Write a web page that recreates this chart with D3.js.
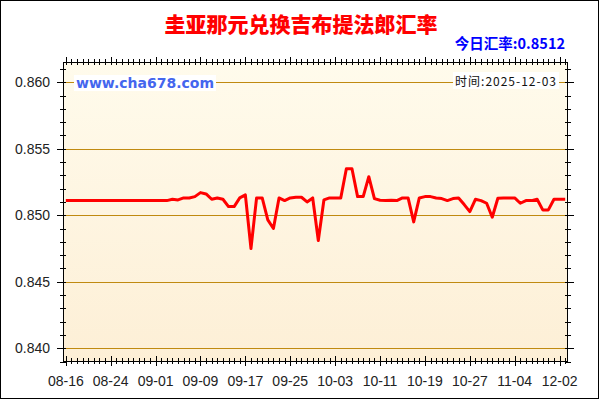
<!DOCTYPE html>
<html><head><meta charset="utf-8">
<script src="https://cdn.jsdelivr.net/npm/d3@7"></script>
<style>body{margin:0;background:#fff}svg{display:block}</style>
</head><body><svg id="c" width="600" height="400"></svg>
<script>
const title = "圭亚那元兑换吉布提法郎汇率";
const todayLabel = "今日汇率:0.8512";
const siteLabel = "www.cha678.com";
const timeLabel = "时间:2025-12-03";
const xTickIndex = [0, 8, 16, 24, 32, 40, 48, 56, 64, 72, 80, 88];
const xTickLabels = ["08-16", "08-24", "09-01", "09-09", "09-17", "09-25", "10-03", "10-11", "10-19", "10-27", "11-04", "12-02"];
const yTicks = [0.840, 0.845, 0.850, 0.855, 0.860];
const rates = [
  0.8511, 0.8511, 0.8511, 0.8511, 0.8511, 0.8511, 0.8511, 0.8511, 0.8511, 0.8511,
  0.8511, 0.8511, 0.8511, 0.8511, 0.8511, 0.8511, 0.8511, 0.8511, 0.8511, 0.8512,
  0.85115, 0.8513, 0.8513, 0.8514, 0.8517, 0.8516, 0.8512, 0.8513, 0.8512, 0.85065,
  0.85065, 0.8513, 0.85153, 0.8475, 0.8513, 0.8513, 0.84965, 0.8490, 0.8513, 0.8511,
  0.8513, 0.85135, 0.85135, 0.8510, 0.8513, 0.8481, 0.85115, 0.8513, 0.8513, 0.8513,
  0.8535, 0.8535, 0.8514, 0.8514, 0.8529, 0.85125, 0.85113, 0.8511, 0.85113, 0.8511,
  0.8513, 0.8513, 0.8495, 0.8513, 0.8514, 0.8514, 0.8513, 0.85125, 0.8511, 0.85125,
  0.8513, 0.8508, 0.85027, 0.8512, 0.8511, 0.8509, 0.84985, 0.85128, 0.8513, 0.8513,
  0.8513, 0.8509, 0.8511, 0.8511, 0.8512, 0.8504, 0.8504, 0.8512, 0.8512, 0.8512
];

const svg = d3.select("#c");
const L = 63, R = 568, T = 62, B = 361;
const x = d3.scaleLinear().domain([-0.5, rates.length - 0.5]).range([L, R]);
const y = d3.scaleLinear().domain([0.839, 0.8615]).range([B + 0.5, T + 0.3]);

// outer frame
svg.append("rect").attr("x", 0.5).attr("y", 0.5).attr("width", 598).attr("height", 398)
  .attr("fill", "#fff").attr("stroke", "#000").attr("stroke-width", 1);

// plot background gradient
const defs = svg.append("defs");
const g = defs.append("linearGradient").attr("id", "bg").attr("x1", 0).attr("y1", 0).attr("x2", 0).attr("y2", 1);
g.append("stop").attr("offset", "0%").attr("stop-color", "#fffbec");
g.append("stop").attr("offset", "100%").attr("stop-color", "#fdefd6");
svg.append("rect").attr("x", L).attr("y", T).attr("width", R - L).attr("height", B - T).attr("fill", "url(#bg)");

// gridlines
svg.append("g").attr("transform", `translate(${L},0)`)
  .call(d3.axisRight(y).tickValues(yTicks).tickSize(R - L).tickFormat(""))
  .call(a => a.select(".domain").remove())
  .call(a => a.selectAll("line").attr("stroke", "#c08a10").attr("stroke-width", 1).attr("shape-rendering", "crispEdges"));

const minorY = d3.range(0, 23).map(i => +(0.839 + i * 0.001).toFixed(3));
const minorX = d3.range(0, rates.length);

function ticks(axisFn, scale, vals, size, pos) {
  svg.append("g").attr("transform", pos)
    .call(axisFn(scale).tickValues(vals).tickSize(size).tickFormat(""))
    .call(a => a.select(".domain").remove())
    .call(a => a.selectAll("line").attr("stroke", "#000").attr("shape-rendering", "crispEdges"));
}
// left & right minor / major ticks
ticks(d3.axisLeft, y, minorY, 3, `translate(${L},0)`);
ticks(d3.axisRight, y, minorY, 3, `translate(${L},0)`);
ticks(d3.axisLeft, y, yTicks, 6, `translate(${L},0)`);
ticks(d3.axisLeft, y, minorY, 3, `translate(${R},0)`);
ticks(d3.axisRight, y, minorY, 3, `translate(${R},0)`);
ticks(d3.axisRight, y, yTicks, 6, `translate(${R},0)`);
// bottom & top
ticks(d3.axisBottom, x, minorX, 3, `translate(0,${B})`);
ticks(d3.axisTop, x, minorX, 3, `translate(0,${B})`);
ticks(d3.axisBottom, x, xTickIndex, 5, `translate(0,${B})`);
ticks(d3.axisTop, x, xTickIndex, 5, `translate(0,${B})`);
ticks(d3.axisBottom, x, minorX, 3, `translate(0,${T})`);
ticks(d3.axisTop, x, minorX, 3, `translate(0,${T})`);
ticks(d3.axisTop, x, xTickIndex, 5, `translate(0,${T})`);

// y labels
svg.append("g").selectAll("text").data(yTicks).join("text")
  .attr("x", L - 13).attr("y", d => y(d)).attr("dy", "0.35em")
  .attr("text-anchor", "end").attr("font-family", "Liberation Sans, Arial, sans-serif")
  .attr("font-size", 14).attr("fill", "#222").text(d => d3.format(".3f")(d));
// x labels
svg.append("g").selectAll("text").data(xTickIndex).join("text")
  .attr("x", d => x(d)).attr("y", 386).attr("text-anchor", "middle")
  .attr("font-family", "Liberation Sans, Arial, sans-serif")
  .attr("font-size", 14).attr("fill", "#222").text((d, i) => xTickLabels[i]);

// watermark labels
function boxLabel(txt, xx, yy, anchor, opts) {
  const t = svg.append("text").attr("x", xx).attr("y", yy).attr("text-anchor", anchor)
    .attr("font-family", opts.family).attr("font-size", opts.size).attr("font-weight", opts.weight)
    .attr("fill", opts.color).attr("letter-spacing", opts.ls || 0).text(txt);
  const bb = t.node().getBBox();
  svg.insert("rect", () => t.node()).attr("x", bb.x - 2).attr("y", bb.y).attr("width", bb.width + 4)
    .attr("height", bb.height).attr("fill", "#fff");
}
boxLabel(siteLabel, 76, 88, "start", {family: "DejaVu Sans, Verdana, sans-serif", size: 14, weight: "bold", color: "#4466ee"});
boxLabel(timeLabel, 557, 86, "end", {family: "Noto Sans CJK SC, sans-serif", size: 12, weight: "normal", color: "#111", ls: 1});

// line
svg.append("path").datum(rates)
  .attr("fill", "none").attr("stroke", "#ff0000").attr("stroke-width", 3)
  .attr("stroke-linejoin", "round")
  .attr("d", d3.line().x((d, i) => x(i)).y(d => y(d)));

// frame of plot
svg.append("rect").attr("x", L + 0.5).attr("y", T + 0.5).attr("width", R - L - 1).attr("height", B - T)
  .attr("fill", "none").attr("stroke", "#000").attr("stroke-width", 1);

// titles
svg.append("text").attr("x", 301).attr("y", 32).attr("text-anchor", "middle")
  .attr("font-family", "Noto Sans CJK SC, sans-serif").attr("font-weight", "900")
  .attr("font-size", 21).attr("fill", "#ff0000").text(title);
svg.append("text").attr("x", 565).attr("y", 49).attr("text-anchor", "end")
  .attr("font-family", "Noto Sans CJK SC, sans-serif").attr("font-weight", "bold")
  .attr("font-size", 14.5).attr("fill", "#0000ff").text(todayLabel);
</script></body></html>
